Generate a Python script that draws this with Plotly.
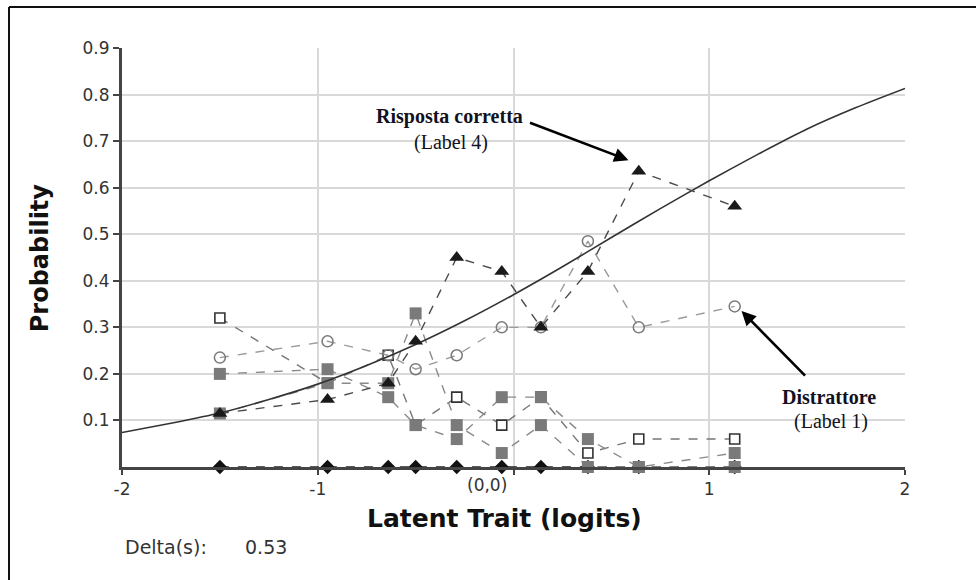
import plotly.graph_objects as go

# ---- data ----
x_class = [-1.5, -0.95, -0.64, -0.5, -0.29, -0.06, 0.14, 0.38, 0.64, 1.13]
p_label0 = [0.0, 0.0, 0.0, 0.0, 0.0, 0.0, 0.0, 0.0, 0.0, 0.0]          # diamonds
p_label2 = [0.20, 0.21, 0.15, 0.09, 0.06, 0.15, 0.15, 0.06, 0.00, 0.03]  # filled squares
p_label3 = [0.115, 0.18, 0.18, 0.33, 0.09, 0.03, 0.09, 0.00, 0.00, 0.00]  # filled squares
p_open_sq = [0.32, 0.18, 0.24, 0.09, 0.15, 0.09, 0.15, 0.03, 0.06, 0.06]  # open squares
p_label1 = [0.235, 0.27, 0.24, 0.21, 0.24, 0.30, 0.30, 0.485, 0.30, 0.345]  # open circles (Distrattore)
p_label4 = [0.115, 0.145, 0.18, 0.27, 0.45, 0.42, 0.30, 0.42, 0.635, 0.56]  # triangles (Risposta corretta)

# expected curve, read at regular points
curve_x = [-2.0, -1.75, -1.5, -1.25, -1.0, -0.75, -0.5, -0.25, 0.0, 0.25, 0.5, 0.75, 1.0, 1.25, 1.5, 1.75, 2.0]
curve_y = [0.074, 0.094, 0.116, 0.145, 0.178, 0.218, 0.263, 0.314, 0.37, 0.43, 0.493, 0.555, 0.615, 0.672, 0.726, 0.772, 0.813]

x_ticks = [-2, -1, 0, 1, 2]
x_ticktext = ["-2", "-1", "", "1", "2"]
y_ticks = [0.1, 0.2, 0.3, 0.4, 0.5, 0.6, 0.7, 0.8, 0.9]
y_ticktext = ["0.1", "0.2", "0.3", "0.4", "0.5", "0.6", "0.7", "0.8", "0.9"]
delta_value = "0.53"

SANS = "DejaVu Sans"
SERIF = "Liberation Serif"

fig = go.Figure()

def series(y, symbol, mcolor, msize, lcolor, mline=None):
    marker = dict(symbol=symbol, color=mcolor, size=msize)
    if mline:
        marker["line"] = mline
    fig.add_trace(go.Scatter(
        x=x_class, y=y, mode="lines+markers",
        line=dict(color=lcolor, width=1.4, dash="dash"),
        marker=marker, showlegend=False, hoverinfo="skip", cliponaxis=False))

series(p_label0, "diamond", "#111111", 11, "#222222")
series(p_open_sq, "square", "#ffffff", 10, "#777777", dict(color="#333333", width=1.6))
series(p_label2, "square", "#7a7a7a", 12, "#8a8a8a")
series(p_label3, "square", "#7a7a7a", 12, "#8a8a8a")
series(p_label1, "circle-open", "#7a7a7a", 11, "#9a9a9a", dict(color="#7a7a7a", width=1.5))

fig.add_trace(go.Scatter(
    x=curve_x, y=curve_y, mode="lines",
    line=dict(color="#333333", width=1.6, shape="spline", smoothing=0.6),
    showlegend=False, hoverinfo="skip"))

series(p_label4, "triangle-up", "#1a1a1a", 13, "#4a4a4a")

fig.update_layout(
    width=976, height=580,
    margin=dict(l=122, r=71, t=48, b=113),
    paper_bgcolor="white", plot_bgcolor="white",
    font=dict(family=SANS, color="#333333"),
    xaxis=dict(range=[-2, 2], tickvals=x_ticks, ticktext=x_ticktext,
               showgrid=True, gridcolor="#d9d9d9", gridwidth=2, zeroline=False,
               showline=True, linecolor="#444444", linewidth=3,
               ticks="outside", ticklen=5, tickwidth=2, tickcolor="#444444",
               tickfont=dict(family=SANS, size=17, color="#333333")),
    yaxis=dict(range=[0, 0.9], tickvals=y_ticks, ticktext=y_ticktext,
               showgrid=True, gridcolor="#d9d9d9", gridwidth=2, zeroline=False,
               showline=True, linecolor="#444444", linewidth=3,
               ticks="outside", ticklen=6, tickwidth=2, tickcolor="#444444",
               tickfont=dict(family=SANS, size=17, color="#333333")),
)

ann = []
# axis titles
ann.append(dict(text="<b>Latent Trait (logits)</b>", xref="paper", yref="paper",
                x=0.488, y=-0.122, xanchor="center", yanchor="middle", showarrow=False,
                font=dict(family=SANS, size=25, color="#111111")))
ann.append(dict(text="<b>Probability</b>", xref="paper", yref="paper",
                x=-0.105, y=0.5, xanchor="center", yanchor="middle", textangle=-90,
                showarrow=False, font=dict(family=SANS, size=24, color="#111111")))
# (0,0) label
ann.append(dict(text="(0,0)", xref="x", yref="paper", x=0, y=-0.043, xshift=-27,
                xanchor="center", yanchor="middle", showarrow=False,
                font=dict(family=SANS, size=17, color="#333333")))
# Delta(s)
ann.append(dict(text="Delta(s):", xref="paper", yref="paper", x=0.001, y=-0.191,
                xanchor="left", yanchor="middle", showarrow=False,
                font=dict(family=SANS, size=19, color="#333333")))
ann.append(dict(text=delta_value, xref="paper", yref="paper", x=0.1545, y=-0.191,
                xanchor="left", yanchor="middle", showarrow=False,
                font=dict(family=SANS, size=19, color="#333333")))
# callouts
ann.append(dict(text="<b>Risposta corretta</b>", xref="x", yref="y", x=-0.327, y=0.752,
                xanchor="center", yanchor="middle", showarrow=False,
                font=dict(family=SERIF, size=20, color="#111122")))
ann.append(dict(text="(Label 4)", xref="x", yref="y", x=-0.32, y=0.698,
                xanchor="center", yanchor="middle", showarrow=False,
                font=dict(family=SERIF, size=20, color="#111122")))
ann.append(dict(text="<b>Distrattore</b>", xref="x", yref="y", x=1.614, y=0.150,
                xanchor="center", yanchor="middle", showarrow=False,
                font=dict(family=SERIF, size=20, color="#111122")))
ann.append(dict(text="(Label 1)", xref="x", yref="y", x=1.62, y=0.097,
                xanchor="center", yanchor="middle", showarrow=False,
                font=dict(family=SERIF, size=20, color="#111122")))
# arrows
ann.append(dict(text="", xref="x", yref="y", x=0.5875, y=0.659, ax=-100, ay=-38,
                showarrow=True, arrowhead=2, arrowsize=1.1, arrowwidth=2.6, arrowcolor="#000000"))
ann.append(dict(text="", xref="x", yref="y", x=1.165, y=0.335, ax=65, ay=66,
                showarrow=True, arrowhead=2, arrowsize=1.1, arrowwidth=2.6, arrowcolor="#000000"))
fig.update_layout(annotations=ann)

# outer frame (left and top edges)
fig.add_shape(type="line", xref="paper", yref="paper", x0=-0.1443, x1=-0.1443, y0=-0.32, y1=1.098,
              line=dict(color="#111111", width=2))
fig.add_shape(type="line", xref="paper", yref="paper", x0=-0.1443, x1=1.2, y0=1.098, y1=1.098,
              line=dict(color="#111111", width=2))

fig.write_html("out.html")
